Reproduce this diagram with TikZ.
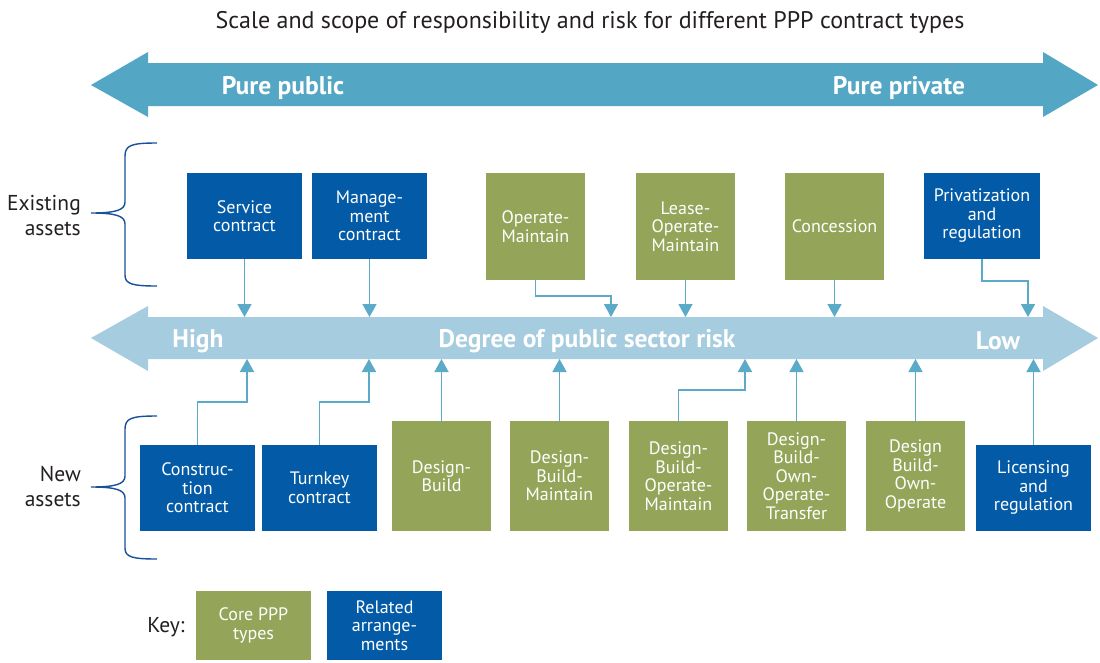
\documentclass[tikz,border=0pt]{standalone}
\usepackage{fontspec}
\setmainfont{PT Sans}
\usetikzlibrary{arrows.meta}
\definecolor{bbox}{RGB}{3,91,168}
\definecolor{gbox}{RGB}{148,165,89}
\definecolor{toparr}{RGB}{84,167,196}
\definecolor{midarr}{RGB}{166,204,223}
\definecolor{connc}{RGB}{90,170,200}
\definecolor{bracec}{RGB}{25,80,155}
\definecolor{dtext}{RGB}{35,31,32}
\newcommand{\boxfont}{\fontsize{18}{18.5}\selectfont}
\tikzset{
  rel/.style={fill=bbox, text=white, minimum width=115pt, minimum height=86pt, inner sep=0pt, align=center, font=\boxfont},
  core/.style={fill=gbox, text=white, minimum width=99pt, minimum height=107pt, inner sep=0pt, align=center, font=\boxfont},
  conn/.style={draw=connc, line width=1.6pt, -{Triangle[width=14pt,length=13pt]}},
  bigarrtext/.style={text=white, font=\fontsize{25.5}{28}\selectfont\bfseries, inner sep=0pt},
  side/.style={text=dtext, align=right, anchor=east, font=\fontsize{21.5}{25}\selectfont, inner sep=0pt},
  bracestyle/.style={draw=bracec, line width=1.4pt}
}
\begin{document}
\begin{tikzpicture}[x=1pt,y=-1pt]
\useasboundingbox (0,0) rectangle (1100,662);
% title
\node[text=dtext, font=\fontsize{24}{28}\selectfont, inner sep=0pt] (title) at (590,22) {Scale and scope of responsibility and risk for different PPP contract types};
% top double arrow
\fill[toparr] (91,85) -- (148,52) -- (148,63) -- (1043,63) -- (1043,52) -- (1098,85) -- (1043,117) -- (1043,106) -- (148,106) -- (148,117) -- cycle;
\node[bigarrtext] (pub) at (283,88) {Pure public};
\node[bigarrtext] (pri) at (899,88) {Pure private};
% middle double arrow
\fill[midarr] (91,338) -- (148,306) -- (148,317) -- (1043,317) -- (1043,306) -- (1098,338) -- (1043,371) -- (1043,359) -- (148,359) -- (148,371) -- cycle;
\node[bigarrtext] (high) at (198,341) {High};
\node[bigarrtext] (deg) at (587,341) {Degree of public sector risk};
\node[bigarrtext] (low) at (998,341) {Low};
\coordinate (mt) at (0,317);
\coordinate (mb) at (0,359);
% braces
\draw[bracestyle] (157,143) .. controls (132,143) and (125,145) .. (125,156) -- (125,202) .. controls (125,210) and (116,213) .. (91,213) .. controls (116,213) and (125,216) .. (125,224) -- (125,275) .. controls (125,284) and (132,286) .. (157,286);
\draw[bracestyle] (157,416) .. controls (132,416) and (125,418) .. (125,429) -- (125,476) .. controls (125,484) and (116,487) .. (91,487) .. controls (116,487) and (125,490) .. (125,498) -- (125,548) .. controls (125,557) and (132,559) .. (157,559);
\node[side] (exist) at (81,216) {Existing\\assets};
\node[side] (new) at (81,486) {New\\assets};
% existing assets
\node[rel] (svc) at (244.5,216) {Service\\contract};
\node[rel] (mgmt) at (369.5,216) {Manage-\\ment\\contract};
\node[core] (om) at (535.5,226.5) {Operate-\\Maintain};
\node[core] (lom) at (685.5,226.5) {Lease-\\Operate-\\Maintain};
\node[core] (conc) at (834.5,226.5) {Concession};
\node[rel, minimum width=116pt] (priv) at (982,216) {Privatization\\and\\regulation};
% new assets
\node[rel] (con) at (197.5,488) {Construc-\\tion\\contract};
\node[rel] (tk) at (319.5,488) {Turnkey\\contract};
\node[core, minimum height=110pt] (db) at (441.5,476) {Design-\\Build};
\node[core, minimum height=110pt] (dbm) at (559.5,476) {Design-\\Build-\\Maintain};
\node[core, minimum height=110pt] (dbom) at (678.5,476) {Design-\\Build-\\Operate-\\Maintain};
\node[core, minimum height=110pt] (dboot) at (796.5,476) {Design-\\Build-\\Own-\\Operate-\\Transfer};
\node[core, minimum height=110pt] (dboo) at (915.5,476) {Design\\Build-\\Own-\\Operate};
\node[rel] (lic) at (1033.5,488) {Licensing\\and\\regulation};
% connector targets
\coordinate (omT) at (611,317);
\coordinate (privT) at (1028,317);
\coordinate (conT) at (247,359);
\coordinate (tkT) at (369,359);
\coordinate (dbomT) at (745,359);
% connectors from existing assets
\draw[conn] (svc.south) -- (svc.south |- mt);
\draw[conn] (mgmt.south) -- (mgmt.south |- mt);
\draw[conn] (om.south) -- ++(0,16) -| (omT);
\draw[conn] (lom.south) -- (lom.south |- mt);
\draw[conn] (conc.south) -- (conc.south |- mt);
\draw[conn] (priv.south) -- ++(0,22) -| (privT);
% connectors from new assets
\draw[conn] (con.north) -- ++(0,-43) -| (conT);
\draw[conn] (tk.north) -- ++(0,-43) -| (tkT);
\draw[conn] (db.north) -- (db.north |- mb);
\draw[conn] (dbm.north) -- (dbm.north |- mb);
\draw[conn] (dbom.north) -- ++(0,-31) -| (dbomT);
\draw[conn] (dboot.north) -- (dboot.north |- mb);
\draw[conn] (dboo.north) -- (dboo.north |- mb);
\draw[conn] (lic.north) -- (lic.north |- mb);
% key
\node[text=dtext, font=\fontsize{21.5}{25}\selectfont, inner sep=0pt] (key) at (166,627) {Key:};
\node[core, minimum width=115pt, minimum height=69pt] (kcore) at (253.5,625.5) {Core PPP\\types};
\node[rel, minimum width=115pt, minimum height=69pt] (krel) at (384.5,625.5) {Related\\arrange-\\ments};
\end{tikzpicture}
\end{document}
